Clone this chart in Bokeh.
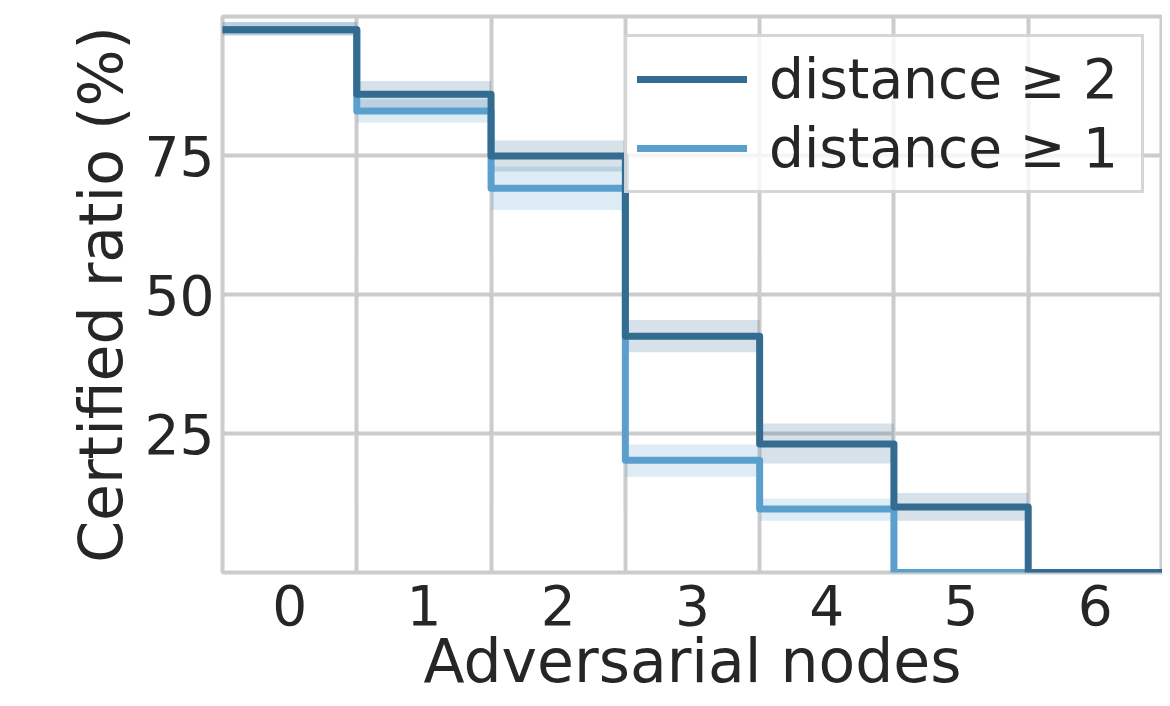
from bokeh.plotting import figure
from bokeh.models import FixedTicker, Range1d, Legend, LegendItem
from bokeh.embed import file_html
from bokeh.resources import INLINE

# ---- data ----
nodes = [0, 1, 2, 3, 4, 5, 6]
x_ticks = [0, 1, 2, 3, 4, 5, 6]
y_ticks = [25, 50, 75]

dist2 = [97.6, 86.0, 74.9, 42.5, 23.1, 11.8, 0.0]
dist2_lo = [96.6, 83.6, 72.1, 39.6, 19.6, 9.3, 0.0]
dist2_hi = [99.0, 88.4, 77.7, 45.4, 26.8, 14.3, 0.0]

dist1 = [97.6, 83.0, 69.1, 20.2, 11.4, 0.0, 0.0]
dist1_lo = [96.6, 80.9, 65.2, 17.2, 9.3, 0.0, 0.0]
dist1_hi = [99.0, 85.1, 73.0, 23.0, 13.3, 0.0, 0.0]

labels = ["distance ≥ 2", "distance ≥ 1"]
x_label = "Adversarial nodes"
y_label = "Certified ratio (%)"

DARK = "#346b91"
LIGHT = "#5b9fcf"
GRID = "#cccccc"
TXT = "#262626"
FONT = "DejaVu Sans"

p = figure(width=1162, height=698, output_backend="svg", toolbar_location=None,
           x_range=Range1d(-0.5, 6.5), y_range=Range1d(0, 100),
           min_border_left=222, min_border_right=0, min_border_top=16, min_border_bottom=122)
p.background_fill_color = "white"
p.border_fill_color = "white"
p.outline_line_color = GRID
p.outline_line_width = 4

half = 0.5
edges = [n - half for n in nodes] + [nodes[-1] + half]

# bands
p.quad(left=[n - half for n in nodes], right=[n + half for n in nodes],
       bottom=dist1_lo, top=dist1_hi, fill_color=LIGHT, fill_alpha=0.2, line_color=None)
p.quad(left=[n - half for n in nodes], right=[n + half for n in nodes],
       bottom=dist2_lo, top=dist2_hi, fill_color=DARK, fill_alpha=0.2, line_color=None)

r1 = p.step(edges, dist1 + [dist1[-1]], mode="after", line_color=LIGHT, line_width=7,
            line_join="round", line_cap="round")
r2 = p.step(edges, dist2 + [dist2[-1]], mode="after", line_color=DARK, line_width=7,
            line_join="round", line_cap="round")

legend = Legend(items=[LegendItem(label=labels[0], renderers=[r2]),
                       LegendItem(label=labels[1], renderers=[r1])],
                location="top_right", margin=18, padding=10, spacing=5,
                glyph_width=110, glyph_height=40, label_standoff=22, label_width=362,
                label_text_font=FONT, label_text_font_size="55px", label_text_color=TXT,
                border_line_color=GRID, border_line_width=3, border_line_alpha=0.8,
                background_fill_color="white", background_fill_alpha=0.8)
p.add_layout(legend)

# axes
for ax in (p.xaxis[0], p.yaxis[0]):
    ax.axis_line_color = None
    ax.major_tick_out = 0
    ax.major_tick_in = 0
    ax.minor_tick_out = 0
    ax.minor_tick_in = 0
    ax.major_label_text_font = FONT
    ax.major_label_text_font_size = "55px"
    ax.major_label_text_color = TXT
    ax.axis_label_text_font = FONT
    ax.axis_label_text_font_size = "60px"
    ax.axis_label_text_font_style = "normal"
    ax.axis_label_text_color = TXT

p.xaxis.ticker = FixedTicker(ticks=x_ticks)
p.yaxis.ticker = FixedTicker(ticks=y_ticks)
p.xaxis.axis_label = x_label
p.yaxis.axis_label = y_label
p.xaxis.major_label_standoff = 12
p.xaxis.axis_label_standoff = -2
p.yaxis.major_label_standoff = 8
p.yaxis.axis_label_standoff = 6

p.xgrid.ticker = FixedTicker(ticks=[n + half for n in nodes[:-1]])
p.ygrid.ticker = FixedTicker(ticks=y_ticks)
p.xgrid.grid_line_color = GRID
p.ygrid.grid_line_color = GRID
p.xgrid.grid_line_width = 4
p.ygrid.grid_line_width = 4

open("out.html", "w").write(file_html(p, INLINE))
